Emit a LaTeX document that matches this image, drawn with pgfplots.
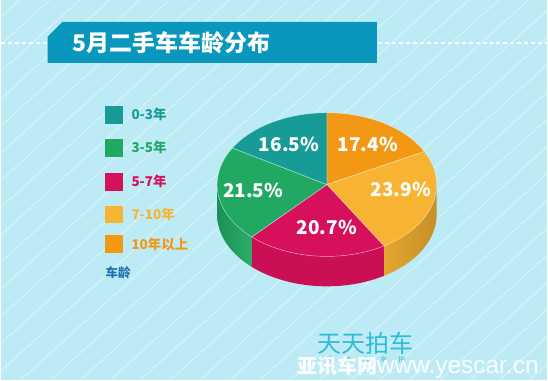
\documentclass[border=0pt]{standalone}
\usepackage{pgfplots}
\pgfplotsset{compat=1.18}
\usepackage{fontspec}
\setmainfont{Noto Sans CJK SC}
\newfontfamily\lat{Liberation Sans}
\definecolor{bg}{HTML}{BCEBF5}
\definecolor{banner}{HTML}{0A97BE}
\definecolor{cteal}{HTML}{169B96}
\definecolor{cgreen}{HTML}{21A964}
\definecolor{ccrim}{HTML}{D6105A}
\definecolor{cyel}{HTML}{F7B432}
\definecolor{corg}{HTML}{F39814}
\definecolor{logo}{HTML}{30BCD8}
\definecolor{agecol}{HTML}{1F72B4}
% data (percent), clockwise from top
\def\vOrg{17.4}  % 10年以上
\def\vYel{23.9}  % 7-10年
\def\vCrim{20.7} % 5-7年
\def\vGrn{21.5}  % 3-5年
\def\vTeal{16.5} % 0-3年
\newcommand\slice[3]{\addplot[fill=#3, draw=white, draw opacity=0.45, line width=0.6bp, domain=#1:#2, samples=60] ({327+110*cos(x)},{196+72*sin(x)}) -- (327,196) -- cycle;}
\newcommand\wall[5]{\addplot[draw=none, left color=#3, middle color=#4, right color=#5, domain=0:2.04, samples=103] ({327+110*cos(#1+min(1,max(0,min(x,2.04-x)))*(#2-(#1)))},{196+72*sin(#1+min(1,max(0,min(x,2.04-x)))*(#2-(#1)))-30*(x>1.01)}) -- cycle;}
\begin{document}
\begin{tikzpicture}[x=1bp,y=1bp]
\pgfmathsetmacro\tA{90}
\pgfmathsetmacro\tB{\tA-3.6*\vOrg}
\pgfmathsetmacro\tC{\tB-3.6*\vYel}
\pgfmathsetmacro\tD{\tC-3.6*\vCrim}
\pgfmathsetmacro\tE{\tD-3.6*\vGrn}
\pgfmathsetmacro\tF{\tE-3.6*\vTeal}
\pgfmathsetmacro\yb{min(\tB,0)}
\pgfmathsetmacro\ga{max(\tE,-180)}
\fill[bg] (0,0) rectangle (548,381);
\begin{scope}
\clip (0,0) rectangle (548,381);
\foreach \i in {-520,-490,...,560} \draw[white,opacity=0.6,line width=0.6bp] (\i,0) -- ++(440,400);
\end{scope}
\draw[white, line width=1.3bp, dash pattern=on 4bp off 3bp] (0,338) -- (548,338);
\fill[banner] (47,318) -- (47,344) -- (62,359) -- (377,359) -- (377,318) -- cycle;
\node[anchor=west, text=white, font=\fontsize{23bp}{23bp}\selectfont\bfseries, inner sep=0pt] at (72,338) {5月二手车车龄分布};
\begin{axis}[at={(0,0)}, anchor=origin, x=1bp, y=1bp, xmin=0, xmax=548, ymin=0, ymax=381, hide axis, clip=false]
\wall{\tC}{\yb}{cyel!92!black}{cyel!95!black}{cyel!80!black}
\wall{\tD}{\tC}{ccrim!95!black}{ccrim!75!white}{ccrim!95!black}
\wall{\ga}{\tD}{cgreen!85!black}{cgreen!92!black}{cgreen!95!white}
\slice{\tB}{\tA}{corg}
\slice{\tC}{\tB}{cyel}
\slice{\tD}{\tC}{ccrim}
\slice{\tE}{\tD}{cgreen}
\slice{\tF}{\tE}{cteal}
\node[text=white, font=\fontsize{19bp}{19bp}\selectfont\bfseries] at (289,236) {16.5\%};
\node[text=white, font=\fontsize{19bp}{19bp}\selectfont\bfseries] at (368,236) {17.4\%};
\node[text=white, font=\fontsize{19bp}{19bp}\selectfont\bfseries] at (253,190) {21.5\%};
\node[text=white, font=\fontsize{19bp}{19bp}\selectfont\bfseries] at (401,191) {23.9\%};
\node[text=white, font=\fontsize{19bp}{19bp}\selectfont\bfseries] at (327,153) {20.7\%};
\end{axis}
% legend
\foreach \yy/\cc/\tt in {266/cteal/0-3年, 233/cgreen/3-5年, 199/ccrim/5-7年, 166/cyel/7-10年, 136/corg/10年以上}{
  \fill[\cc] (105,\yy-9) rectangle (123,\yy+9);
  \node[anchor=west, inner sep=0pt, text=\cc, font=\fontsize{13.5bp}{14bp}\selectfont\bfseries] at (131,\yy) {\tt};
}
\node[anchor=west, inner sep=0pt, text=agecol, font=\fontsize{12.5bp}{13bp}\selectfont\bfseries] at (105,108) {车龄};
% logo
\node[text=logo, inner sep=0pt, font=\fontsize{24bp}{24bp}\selectfont] at (366,37) {天天拍车};
\node[text=logo, inner sep=0pt, font=\fontsize{7bp}{7bp}\selectfont] at (366,20) {闪\hspace{11bp}电\hspace{11bp}卖\hspace{11bp}车\hspace{11bp}拍};
\node[anchor=west, inner sep=0pt, text=white, opacity=0.95] at (297,13) {\fontsize{20bp}{20bp}\selectfont\bfseries 亚讯车网\lat\fontsize{24.5bp}{24bp}\selectfont\mdseries www.yescar.cn};
\end{tikzpicture}
\end{document}
